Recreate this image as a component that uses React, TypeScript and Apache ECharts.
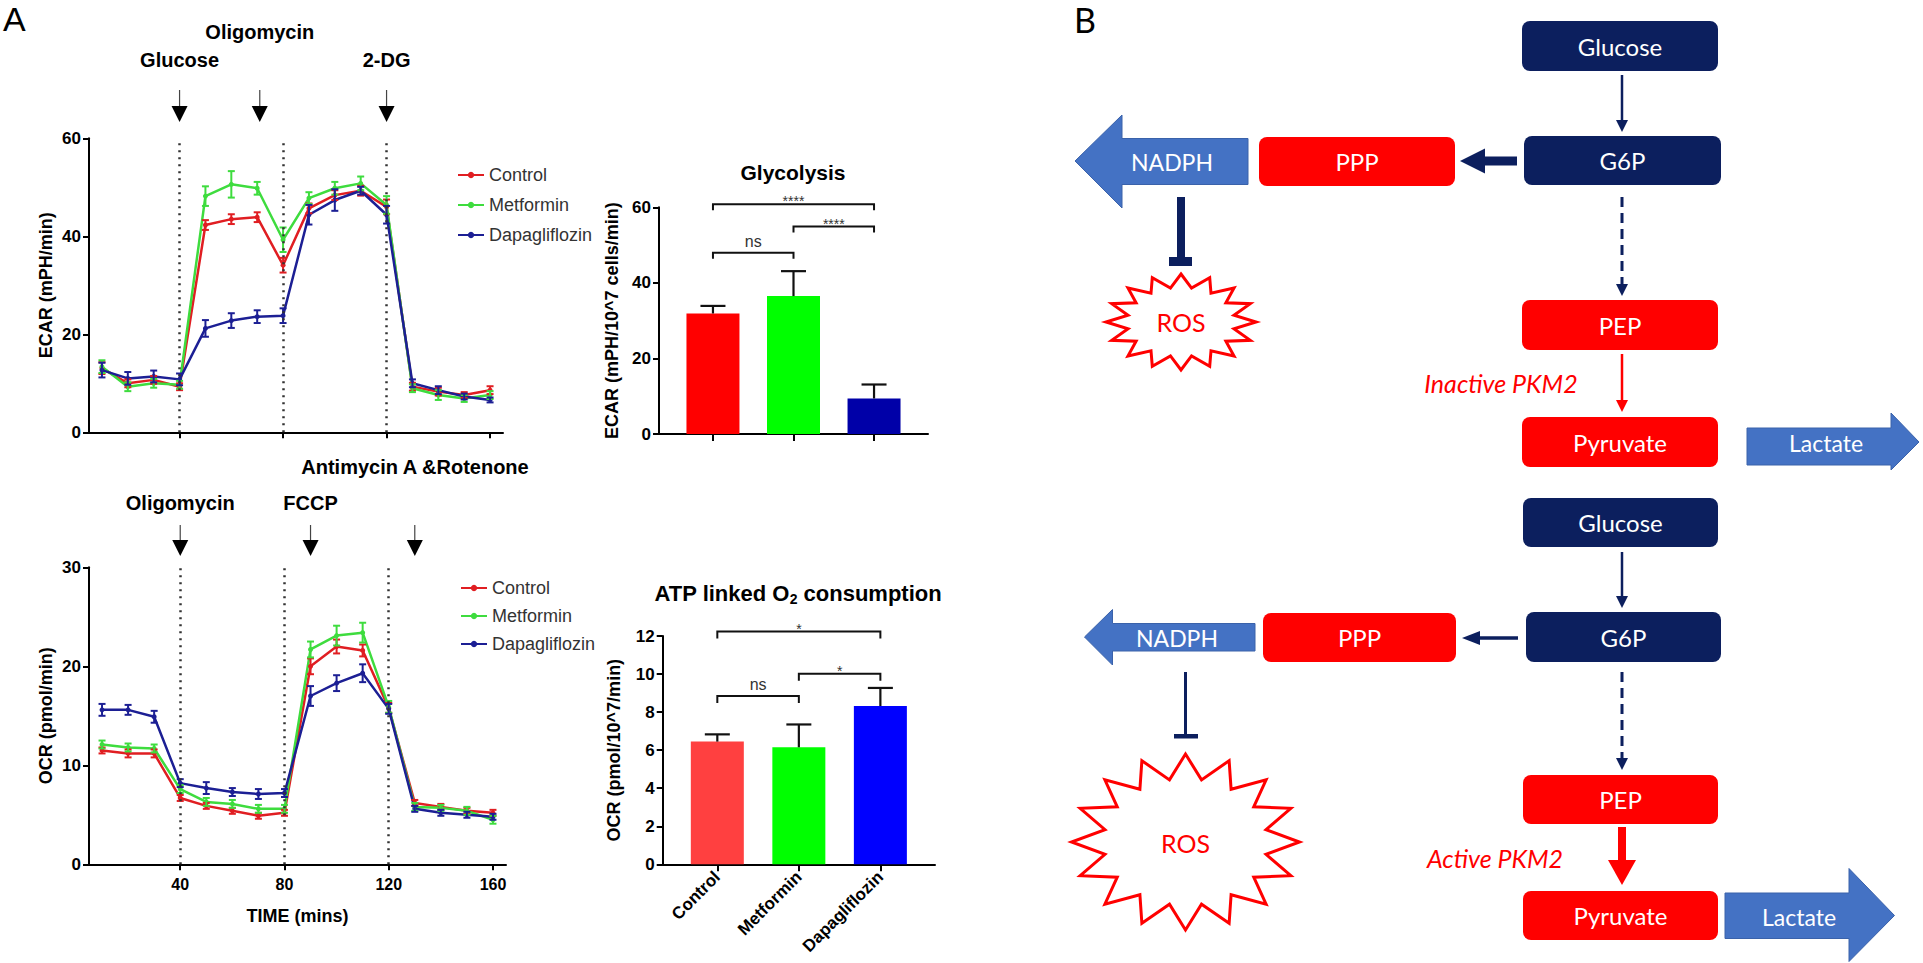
import React, { useEffect, useRef } from "react";
import * as echarts from "echarts";

const FONT = "'Liberation Sans', Arial, Helvetica, sans-serif";
const DIAG_FONT = "Lato, 'Open Sans', 'Liberation Sans', sans-serif";

// ---------- Panel A data ----------
const times = [10, 20, 30, 40, 50, 60, 70, 80, 90, 100, 110, 120, 130, 140, 150, 160];
const groupNames = ["Control", "Metformin", "Dapagliflozin"];
const lineColors = ["#E01E22", "#3EDC3E", "#1C1F94"];

const ecarControl = [13.1, 10.0, 10.7, 9.3, 42.3, 43.5, 43.9, 34.1, 45.7, 48.4, 49.3, 46.0, 9.3, 8.3, 7.6, 8.6];
const ecarControlErr = [1.2, 0.8, 0.8, 0.7, 1.0, 1.0, 1.0, 1.5, 1.0, 1.0, 1.0, 1.5, 0.8, 0.8, 0.6, 0.8];
const ecarMetformin = [13.4, 9.3, 10.0, 9.7, 48.2, 50.6, 49.8, 39.3, 47.8, 49.8, 50.8, 46.4, 9.0, 7.6, 6.9, 7.6];
const ecarMetforminErr = [1.3, 0.9, 0.9, 0.8, 2.0, 2.7, 1.3, 2.5, 1.2, 1.3, 1.4, 1.8, 0.8, 1.0, 0.7, 0.8];
const ecarDapa = [12.7, 11.0, 11.4, 10.8, 21.2, 22.8, 23.6, 23.8, 44.4, 47.4, 49.3, 44.4, 10.0, 8.6, 7.3, 6.6];
const ecarDapaErr = [1.5, 1.3, 1.2, 1.2, 1.7, 1.5, 1.3, 1.5, 2.0, 2.2, 0.8, 1.8, 0.8, 0.8, 0.6, 0.5];

const ocrControl = [11.5, 11.2, 11.2, 6.7, 5.9, 5.4, 4.9, 5.2, 20.0, 22.0, 21.6, 15.8, 6.2, 5.8, 5.4, 5.2];
const ocrControlErr = [0.3, 0.4, 0.4, 0.3, 0.3, 0.3, 0.3, 0.3, 0.8, 0.7, 0.6, 0.5, 0.3, 0.3, 0.3, 0.3];
const ocrMetformin = [12.1, 11.8, 11.7, 7.6, 6.3, 6.1, 5.6, 5.6, 21.7, 23.1, 23.4, 15.9, 5.8, 5.7, 5.4, 4.5];
const ocrMetforminErr = [0.4, 0.4, 0.4, 0.4, 0.4, 0.4, 0.4, 0.4, 0.8, 1.0, 1.0, 0.6, 0.4, 0.3, 0.4, 0.4];
const ocrDapa = [15.6, 15.6, 14.9, 8.2, 7.7, 7.3, 7.1, 7.2, 17.0, 18.3, 19.3, 15.7, 5.6, 5.2, 5.0, 4.8];
const ocrDapaErr = [0.6, 0.5, 0.6, 0.4, 0.6, 0.4, 0.5, 0.4, 1.0, 0.8, 0.9, 0.5, 0.3, 0.3, 0.3, 0.3];

const phaseLines = [40, 80, 120];
const timeTicks = [40, 80, 120, 160];

const ecarInjections = [
  { t: 40, label: "Glucose", row: 1 },
  { t: 71, label: "Oligomycin", row: 0 },
  { t: 120, label: "2-DG", row: 1 },
];
const ocrInjections = [
  { t: 40, label: "Oligomycin", row: 1 },
  { t: 90, label: "FCCP", row: 1 },
  { t: 130, label: "Antimycin A &Rotenone", row: 0 },
];

const glyValues = [31.9, 36.5, 9.4];
const glyErr = [2.0, 6.6, 3.7];
const glyColors = ["#FF0000", "#00FF00", "#0000A8"];
const glyBrackets = [
  { from: 0, to: 1, y: 48.0, label: "ns" },
  { from: 1, to: 2, y: 54.9, label: "****" },
  { from: 0, to: 2, y: 60.8, label: "****" },
];

const atpValues = [6.45, 6.15, 8.32];
const atpErr = [0.38, 1.2, 0.95];
const atpColors = ["#FF4040", "#00FF00", "#0000FF"];
const atpBrackets = [
  { from: 0, to: 1, y: 8.85, label: "ns" },
  { from: 1, to: 2, y: 10.02, label: "*" },
  { from: 0, to: 2, y: 12.23, label: "*" },
];

// ---------- Panel B colours ----------
const NAVY = "#0C1F5E";
const RED = "#FF0000";
const BLUE = "#4472C4";

function lineSeries(g: number, name: string, vals: number[], color: string, mark: boolean) {
  const s: any = {
    type: "line",
    name,
    xAxisIndex: g,
    yAxisIndex: g,
    data: times.map((t, i) => [t, vals[i]]),
    symbol: "circle",
    symbolSize: 5,
    color,
    lineStyle: { color, width: 2.5 },
    itemStyle: { color },
    z: 3,
  };
  if (mark) {
    s.markLine = {
      silent: true,
      symbol: ["none", "none"],
      label: { show: false },
      lineStyle: { type: [2, 5], color: "#333", width: 2.5 },
      data: phaseLines.map((x) => ({ xAxis: x })),
    };
  }
  return s;
}

function errSeries(g: number, name: string, vals: number[], errs: number[], color: string) {
  return {
    type: "custom",
    name: name + " SEM",
    xAxisIndex: g,
    yAxisIndex: g,
    data: times.map((t, i) => [t, vals[i], errs[i]]),
    encode: { x: 0, y: 1 },
    clip: false,
    z: 4,
    renderItem: (params: any, api: any) => {
      const x = api.value(0);
      const y = api.value(1);
      const e = api.value(2);
      const hi = api.coord([x, y + e]);
      const lo = api.coord([x, y - e]);
      const hw = 3.5;
      const st = { stroke: color, lineWidth: 2 };
      return {
        type: "group",
        children: [
          { type: "line", shape: { x1: hi[0], y1: hi[1], x2: lo[0], y2: lo[1] }, style: st },
          { type: "line", shape: { x1: hi[0] - hw, y1: hi[1], x2: hi[0] + hw, y2: hi[1] }, style: st },
          { type: "line", shape: { x1: lo[0] - hw, y1: lo[1], x2: lo[0] + hw, y2: lo[1] }, style: st },
        ],
      };
    },
  };
}

function barSeries(g: number, vals: number[], colors: string[]) {
  return {
    type: "bar",
    name: "bars" + g,
    xAxisIndex: g,
    yAxisIndex: g,
    barWidth: 53,
    data: vals.map((v, i) => ({ value: [i, v], itemStyle: { color: colors[i] } })),
  };
}

function barErrSeries(g: number, vals: number[], errs: number[]) {
  return {
    type: "custom",
    name: "err" + g,
    xAxisIndex: g,
    yAxisIndex: g,
    data: vals.map((v, i) => [i, v, errs[i]]),
    encode: { x: 0, y: 1 },
    clip: false,
    z: 5,
    renderItem: (params: any, api: any) => {
      const x = api.value(0);
      const v = api.value(1);
      const e = api.value(2);
      const b = api.coord([x, v]);
      const t = api.coord([x, v + e]);
      const st = { stroke: "#111", lineWidth: 2.2 };
      return {
        type: "group",
        children: [
          { type: "line", shape: { x1: b[0], y1: b[1], x2: t[0], y2: t[1] }, style: st },
          { type: "line", shape: { x1: t[0] - 12.5, y1: t[1], x2: t[0] + 12.5, y2: t[1] }, style: st },
        ],
      };
    },
  };
}

const axisLineStyle = { color: "#000", width: 2 };
const boldLabel = (size: number) => ({
  color: "#000",
  fontSize: size,
  fontWeight: "bold" as const,
  fontFamily: FONT,
});

function starPoints(cx: number, cy: number, rx: number, ry: number, n: number, inner: number) {
  const pts: number[][] = [];
  for (let i = 0; i < 2 * n; i++) {
    const a = -Math.PI / 2 + (i * Math.PI) / n;
    const r = i % 2 === 0 ? 1 : inner;
    pts.push([cx + rx * r * Math.cos(a), cy + ry * r * Math.sin(a)]);
  }
  return pts;
}

function txt(x: number, y: number, text: string, opts: any = {}) {
  return {
    type: "text",
    x,
    y,
    z: 10,
    style: {
      text,
      fill: opts.fill || "#000",
      fontSize: opts.fontSize || 18,
      fontWeight: opts.fontWeight || "normal",
      fontStyle: opts.fontStyle || "normal",
      fontFamily: opts.fontFamily || FONT,
      align: opts.align || "center",
      verticalAlign: opts.verticalAlign || "middle",
    },
  };
}

function dtxt(x: number, y: number, text: string, fill: string, size: number, italic = false) {
  return txt(x, y, text, { fill, fontSize: size, fontFamily: DIAG_FONT, fontStyle: italic ? "italic" : "normal" });
}

function box(x: number, y: number, w: number, h: number, color: string, label: string) {
  return [
    { type: "rect", shape: { x, y, width: w, height: h, r: 8 }, style: { fill: color }, z: 5 },
    dtxt(x + w / 2, y + h / 2, label, "#fff", 24),
  ];
}

function diagramB() {
  const els: any[] = [];
  els.push(txt(1074, 19, "B", { fontSize: 34, align: "left", fontFamily: DIAG_FONT }));
  // ---- top diagram ----
  els.push(...box(1522, 21, 196, 50, NAVY, "Glucose"));
  els.push(...box(1524, 136, 197, 49, NAVY, "G6P"));
  els.push(...box(1259, 137, 196, 49, RED, "PPP"));
  els.push(...box(1522, 300, 196, 50, RED, "PEP"));
  els.push(...box(1522, 417, 196, 50, RED, "Pyruvate"));
  els.push({
    type: "polygon",
    shape: { points: [[1075, 161], [1122, 115], [1122, 138.5], [1248, 138.5], [1248, 184.5], [1122, 184.5], [1122, 208]] },
    style: { fill: BLUE, stroke: "#3A62AA", lineWidth: 1 },
  });
  els.push(dtxt(1172, 161.5, "NADPH", "#fff", 23));
  els.push({
    type: "polygon",
    shape: { points: [[1747, 428], [1891, 428], [1891, 413], [1919, 442], [1891, 470], [1891, 465], [1747, 465]] },
    style: { fill: BLUE, stroke: "#3A62AA", lineWidth: 1 },
  });
  els.push(dtxt(1826, 443, "Lactate", "#fff", 23));
  // arrows
  els.push({ type: "line", shape: { x1: 1622, y1: 75, x2: 1622, y2: 124 }, style: { stroke: NAVY, lineWidth: 2.5 } });
  els.push({ type: "polygon", shape: { points: [[1616, 120], [1628, 120], [1622, 132]] }, style: { fill: NAVY } });
  els.push({ type: "rect", shape: { x: 1484, y: 156.5, width: 33, height: 9 }, style: { fill: NAVY } });
  els.push({ type: "polygon", shape: { points: [[1460, 161], [1485, 148.5], [1485, 173.5]] }, style: { fill: NAVY } });
  els.push({ type: "line", shape: { x1: 1622, y1: 197, x2: 1622, y2: 286 }, style: { stroke: NAVY, lineWidth: 3, lineDash: [10, 6] } });
  els.push({ type: "polygon", shape: { points: [[1616, 284], [1628, 284], [1622, 296]] }, style: { fill: NAVY } });
  els.push({ type: "line", shape: { x1: 1622, y1: 354, x2: 1622, y2: 402 }, style: { stroke: RED, lineWidth: 2.5 } });
  els.push({ type: "polygon", shape: { points: [[1616, 400], [1628, 400], [1622, 412]] }, style: { fill: RED } });
  els.push(dtxt(1501, 383, "Inactive PKM2", RED, 25, true));
  // inhibition
  els.push({ type: "rect", shape: { x: 1177, y: 197, width: 8, height: 62 }, style: { fill: NAVY } });
  els.push({ type: "rect", shape: { x: 1169, y: 257, width: 23, height: 9 }, style: { fill: NAVY } });
  els.push({
    type: "polygon",
    shape: { points: starPoints(1181, 322, 75, 48, 16, 0.72) },
    style: { fill: "#fff", stroke: RED, lineWidth: 3 },
  });
  els.push(dtxt(1181, 322, "ROS", RED, 25));

  // ---- bottom diagram ----
  els.push(...box(1523, 498, 195, 49, NAVY, "Glucose"));
  els.push(...box(1526, 612, 195, 50, NAVY, "G6P"));
  els.push(...box(1263, 613, 193, 49, RED, "PPP"));
  els.push(...box(1523, 775, 195, 49, RED, "PEP"));
  els.push(...box(1523, 891, 195, 49, RED, "Pyruvate"));
  els.push({
    type: "polygon",
    shape: { points: [[1084.5, 637], [1112.5, 609.5], [1112.5, 623.5], [1255, 623.5], [1255, 651], [1112.5, 651], [1112.5, 665]] },
    style: { fill: BLUE, stroke: "#3A62AA", lineWidth: 1 },
  });
  els.push(dtxt(1177, 638, "NADPH", "#fff", 23));
  els.push({
    type: "polygon",
    shape: { points: [[1725, 893], [1849, 893], [1849, 868.5], [1894.5, 915.5], [1849, 961.5], [1849, 938.5], [1725, 938.5]] },
    style: { fill: BLUE, stroke: "#3A62AA", lineWidth: 1 },
  });
  els.push(dtxt(1799, 917, "Lactate", "#fff", 23));
  els.push({ type: "line", shape: { x1: 1622, y1: 552, x2: 1622, y2: 600 }, style: { stroke: NAVY, lineWidth: 2.5 } });
  els.push({ type: "polygon", shape: { points: [[1616, 596], [1628, 596], [1622, 608]] }, style: { fill: NAVY } });
  els.push({ type: "line", shape: { x1: 1518, y1: 638, x2: 1476, y2: 638 }, style: { stroke: NAVY, lineWidth: 3.5 } });
  els.push({ type: "polygon", shape: { points: [[1462, 638], [1480, 631], [1480, 645]] }, style: { fill: NAVY } });
  els.push({ type: "line", shape: { x1: 1622, y1: 672, x2: 1622, y2: 760 }, style: { stroke: NAVY, lineWidth: 3, lineDash: [10, 6] } });
  els.push({ type: "polygon", shape: { points: [[1616, 758], [1628, 758], [1622, 770]] }, style: { fill: NAVY } });
  els.push({ type: "rect", shape: { x: 1618, y: 827, width: 8, height: 35 }, style: { fill: RED } });
  els.push({ type: "polygon", shape: { points: [[1608, 860], [1636, 860], [1622, 885]] }, style: { fill: RED } });
  els.push(dtxt(1495, 858, "Active PKM2", RED, 25, true));
  els.push({ type: "line", shape: { x1: 1185.5, y1: 672, x2: 1185.5, y2: 736 }, style: { stroke: NAVY, lineWidth: 3 } });
  els.push({ type: "rect", shape: { x: 1174, y: 734, width: 24, height: 4.5 }, style: { fill: NAVY } });
  els.push({
    type: "polygon",
    shape: { points: starPoints(1185.5, 842, 114, 88, 16, 0.72) },
    style: { fill: "#fff", stroke: RED, lineWidth: 3 },
  });
  els.push(dtxt(1185.5, 843, "ROS", RED, 25));
  return els;
}

export default function App() {
  const ref = useRef<HTMLDivElement>(null);

  useEffect(() => {
    if (!ref.current) return;
    const chart = echarts.init(ref.current, null, { renderer: "svg" });

    const timeAxis = (g: number, showLabels: boolean, named: boolean) => ({
      type: "value",
      gridIndex: g,
      min: 5,
      max: 165,
      axisLine: { onZero: false, lineStyle: axisLineStyle },
      axisTick: { customValues: timeTicks, length: 6, lineStyle: axisLineStyle },
      axisLabel: { show: showLabels, customValues: timeTicks, margin: 12, ...boldLabel(16) },
      splitLine: { show: false },
      ...(named
        ? {
            name: "TIME (mins)",
            nameLocation: "middle",
            nameGap: 43,
            nameTextStyle: boldLabel(18),
          }
        : {}),
    });

    const catAxis = (g: number, showLabels: boolean) => ({
      type: "value",
      gridIndex: g,
      min: -0.67,
      max: 2.67,
      axisLine: { onZero: false, lineStyle: axisLineStyle },
      axisTick: { customValues: [0, 1, 2], length: 7, lineStyle: axisLineStyle },
      axisLabel: {
        show: showLabels,
        customValues: [0, 1, 2],
        rotate: 45,
        margin: 10,
        formatter: (v: number) => groupNames[Math.round(v)] || "",
        ...boldLabel(17),
      },
      splitLine: { show: false },
    });

    const yAx = (g: number, max: number, interval: number, name: string, gap: number) => ({
      type: "value",
      gridIndex: g,
      min: 0,
      max,
      interval,
      name,
      nameLocation: "middle",
      nameGap: gap,
      nameTextStyle: boldLabel(18),
      axisLine: { show: true, onZero: false, lineStyle: axisLineStyle },
      axisTick: { show: true, length: 6, lineStyle: axisLineStyle },
      axisLabel: { margin: 8, ...boldLabel(17) },
      splitLine: { show: false },
    });

    const legendCommon = {
      data: groupNames,
      orient: "vertical",
      itemWidth: 26,
      itemHeight: 8,
      selectedMode: false,
      textStyle: { fontSize: 18, color: "#333", fontFamily: FONT, lineHeight: 20 },
    };

    const option: any = {
      animation: false,
      backgroundColor: "#fff",
      textStyle: { fontFamily: FONT },
      grid: [
        { left: 89, top: 138.3, width: 414, height: 294 },
        { left: 89, top: 567.3, width: 417, height: 297 },
        { left: 659, top: 207.3, width: 269, height: 226.7 },
        { left: 662.7, top: 636, width: 272.3, height: 228.3 },
      ],
      xAxis: [timeAxis(0, false, false), timeAxis(1, true, true), catAxis(2, false), catAxis(3, true)],
      yAxis: [
        yAx(0, 60, 20, "ECAR (mPH/min)", 34),
        yAx(1, 30, 10, "OCR (pmol/min)", 34),
        yAx(2, 60, 20, "ECAR (mPH/10^7 cells/min)", 38),
        yAx(3, 12, 2, "OCR (pmol/10^7/min)", 40),
      ],
      legend: [
        { ...legendCommon, left: 452, top: 160, itemGap: 10 },
        { ...legendCommon, left: 455, top: 573, itemGap: 8 },
      ],
      series: [
        lineSeries(0, "Control", ecarControl, lineColors[0], true),
        lineSeries(0, "Metformin", ecarMetformin, lineColors[1], false),
        lineSeries(0, "Dapagliflozin", ecarDapa, lineColors[2], false),
        errSeries(0, "Control", ecarControl, ecarControlErr, lineColors[0]),
        errSeries(0, "Metformin", ecarMetformin, ecarMetforminErr, lineColors[1]),
        errSeries(0, "Dapagliflozin", ecarDapa, ecarDapaErr, lineColors[2]),
        lineSeries(1, "Control", ocrControl, lineColors[0], true),
        lineSeries(1, "Metformin", ocrMetformin, lineColors[1], false),
        lineSeries(1, "Dapagliflozin", ocrDapa, lineColors[2], false),
        errSeries(1, "Control", ocrControl, ocrControlErr, lineColors[0]),
        errSeries(1, "Metformin", ocrMetformin, ocrMetforminErr, lineColors[1]),
        errSeries(1, "Dapagliflozin", ocrDapa, ocrDapaErr, lineColors[2]),
        barSeries(2, glyValues, glyColors),
        barErrSeries(2, glyValues, glyErr),
        barSeries(3, atpValues, atpColors),
        barErrSeries(3, atpValues, atpErr),
      ],
    };
    chart.setOption(option);

    // ---------- annotations positioned through the axes ----------
    const px = (g: number, x: number, y: number) => chart.convertToPixel({ gridIndex: g } as any, [x, y]) as number[];
    const els: any[] = [];
    els.push(txt(3, 19, "A", { fontSize: 34, align: "left" }));

    const injection = (g: number, t: number, lineTop: number, triTop: number, label: string, labelY: number) => {
      const x = px(g, t, 0)[0];
      els.push({ type: "line", shape: { x1: x, y1: lineTop, x2: x, y2: triTop + 1 }, style: { stroke: "#444", lineWidth: 1.2 } });
      els.push({ type: "polygon", shape: { points: [[x - 8, triTop], [x + 8, triTop], [x, triTop + 16]] }, style: { fill: "#000" } });
      if (label) els.push(txt(x, labelY, label, { fontSize: 20, fontWeight: "bold" }));
    };
    ecarInjections.forEach((d) => injection(0, d.t, 90, 106, d.label, d.row === 0 ? 32 : 60));
    ocrInjections.forEach((d) => {
      if (d.row === 0) {
        injection(1, d.t, 525, 540, "", 0);
        els.push(txt(415, 467, d.label, { fontSize: 20, fontWeight: "bold" }));
      } else {
        injection(1, d.t, 525, 540, d.label, 503);
      }
    });

    const bracket = (g: number, b: any, drop: number) => {
      const p1 = px(g, b.from, b.y);
      const p2 = px(g, b.to, b.y);
      els.push({
        type: "polyline",
        shape: { points: [[p1[0], p1[1] + drop], [p1[0], p1[1]], [p2[0], p2[1]], [p2[0], p2[1] + drop]] },
        style: { stroke: "#111", lineWidth: 2, fill: null },
      });
      const isNs = b.label === "ns";
      els.push(
        txt((p1[0] + p2[0]) / 2, p1[1] - (isNs ? 11 : 3), b.label, {
          fontSize: isNs ? 16 : 14,
          fill: "#333",
        })
      );
    };
    glyBrackets.forEach((b) => bracket(2, b, 6));
    atpBrackets.forEach((b) => bracket(3, b, 7));

    els.push(txt(793, 172, "Glycolysis", { fontSize: 21, fontWeight: "bold" }));
    els.push({
      type: "text",
      x: 798,
      y: 593,
      z: 10,
      style: {
        text: "{a|ATP linked O}{s|2}{a| consumption}",
        align: "center",
        verticalAlign: "middle",
        fill: "#000",
        rich: {
          a: { fontSize: 22, fontWeight: "bold", fontFamily: FONT, fill: "#000" },
          s: { fontSize: 14, fontWeight: "bold", fontFamily: FONT, fill: "#000", padding: [12, 0, 0, 0] },
        },
      },
    });

    els.push(...diagramB());
    chart.setOption({ graphic: { elements: els } });

    return () => chart.dispose();
  }, []);

  return (
    <div
      ref={ref}
      style={{ position: "fixed", left: 0, top: 0, width: 1923, height: 963, background: "#fff" }}
    />
  );
}
